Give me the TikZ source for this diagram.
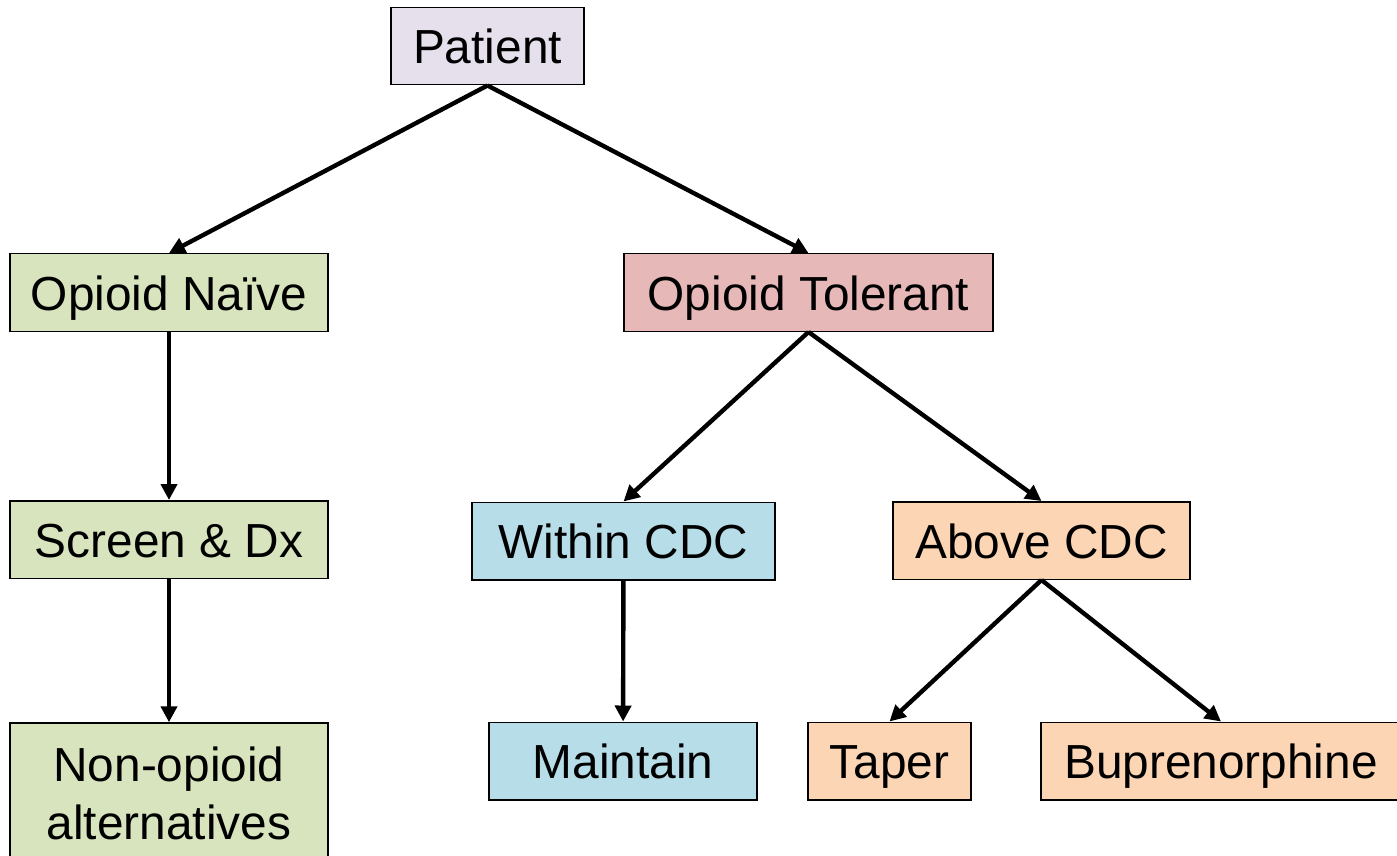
\documentclass[tikz,border=0pt]{standalone}
\usepackage{fontspec}
\setmainfont{Liberation Sans}
\usepackage{tikz}
\usetikzlibrary{arrows.meta,positioning}
\usepackage{xcolor}

\definecolor{patientfill}{HTML}{E6E0EC}
\definecolor{naivefill}{HTML}{D7E4BD}
\definecolor{tolfill}{HTML}{E6B9B8}
\definecolor{withinfill}{HTML}{B7DEE8}
\definecolor{abovefill}{HTML}{FCD5B5}

\begin{document}
\begin{tikzpicture}[
  boxbase/.style={rectangle, draw, line width=0.85pt, inner sep=0pt,
              minimum height=1.55cm, align=center,
              font=\fontsize{27.2}{33}\selectfont},
  box/.style={boxbase, text height=24pt, text depth=4pt},
  arrow/.style={-{Triangle[length=0.32cm,width=0.32cm]}, line width=2.5pt}
]
  \useasboundingbox (0,0) rectangle (27.94,-17.12);
  \clip (0,0) rectangle (27.94,-17.12);

  % Nodes
  \node[box, fill=patientfill, minimum width=3.86cm] (pat)   at (9.75,-0.92)   {Patient};
  \node[box, fill=naivefill,   minimum width=6.36cm] (naive) at (3.38,-5.85)   {Opioid Naïve};
  \node[box, fill=tolfill,     minimum width=7.38cm] (tol)   at (16.17,-5.85)  {Opioid Tolerant};
  \node[box, fill=naivefill,   minimum width=6.36cm] (scr)   at (3.38,-10.79)  {Screen \& Dx};
  \node[box, fill=withinfill,  minimum width=6.06cm] (within) at (12.47,-10.82) {Within CDC};
  \node[box, fill=abovefill,   minimum width=5.94cm] (above) at (20.83,-10.81) {Above CDC};
  \node[boxbase, fill=naivefill, minimum width=6.36cm, minimum height=2.8cm]
       (nonop) at (3.38,-15.86) {Non-opioid\\alternatives};
  \node[box, fill=withinfill,  minimum width=5.36cm] (maint) at (12.46,-15.22) {Maintain};
  \node[box, fill=abovefill,   minimum width=3.26cm] (taper) at (17.79,-15.22) {Taper};
  \node[box, fill=abovefill,   minimum width=7.2cm]  (bup)   at (24.42,-15.22) {Buprenorphine};

  % Arrows
  \draw[arrow] (pat.south) -- (naive.north);
  \draw[arrow] (pat.south) -- (tol.north);
  \draw[arrow] (naive) -- (scr);
  \draw[arrow] (scr) -- (nonop);
  \draw[arrow] (tol.south) -- (within.north);
  \draw[arrow] (tol.south) -- (above.north);
  \draw[arrow] (within) -- (maint);
  \draw[arrow] (above.south) -- (taper.north);
  \draw[arrow] (above.south) -- (bup.north);
\end{tikzpicture}
\end{document}
